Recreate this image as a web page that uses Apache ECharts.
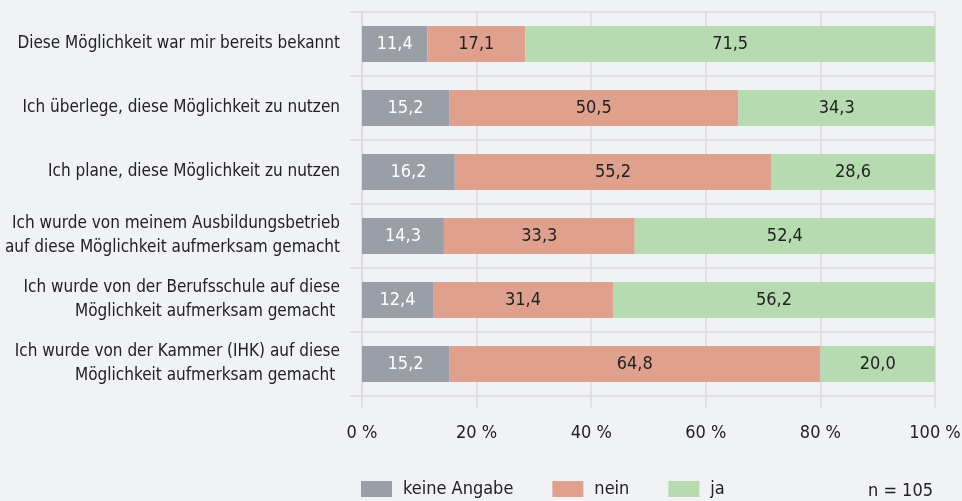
<!DOCTYPE html>
<html>
<head>
<meta charset="utf-8">
<title>Möglichkeit</title>
<script src="https://cdn.jsdelivr.net/npm/echarts@6/dist/echarts.min.js"></script>
<style>
    html, body { margin: 0; padding: 0; background: #f1f2f6; }
    #chart { width: 962px; height: 501px; }
</style>
</head>
<body>
<div id="chart"></div>
<script>
var categories = [
    'Diese Möglichkeit war mir bereits bekannt',
    'Ich überlege, diese Möglichkeit zu nutzen',
    'Ich plane, diese Möglichkeit zu nutzen',
    'Ich wurde von meinem Ausbildungsbetrieb\nauf diese Möglichkeit aufmerksam gemacht',
    'Ich wurde von der Berufsschule auf diese\nMöglichkeit aufmerksam gemacht ',
    'Ich wurde von der Kammer (IHK) auf diese\nMöglichkeit aufmerksam gemacht '
];
var keineAngabe = [11.4, 15.2, 16.2, 14.3, 12.4, 15.2];
var nein = [17.1, 50.5, 55.2, 33.3, 31.4, 64.8];
var ja = [71.5, 34.3, 28.6, 52.4, 56.2, 20.0];
var seriesNames = ['keine Angabe', 'nein', 'ja'];
var colors = ['#9a9ea7', '#e0a08e', '#b6dbb0'];
var textColors = ['#ffffff', '#222222', '#222222'];

var font = '"Liberation Sans Narrow", "DejaVu Sans Condensed", "Roboto", sans-serif';
var lineColor = '#d8d9de';

var chart = echarts.init(document.getElementById('chart'));

function makeSeries(i, data) {
    return {
        name: seriesNames[i],
        type: 'bar',
        stack: 'total',
        barWidth: 36,
        data: data,
        itemStyle: { color: colors[i] },
        label: {
            show: true,
            position: 'inside',
            color: textColors[i],
            fontFamily: font,
            fontSize: 18,
            formatter: function (p) {
                return p.value.toFixed(1).replace('.', ',');
            }
        }
    };
}

var option = {
    backgroundColor: '#f1f2f6',
    animation: false,
    textStyle: { fontFamily: font },
    grid: { left: 362, right: 27, top: 12, bottom: 105, outerBoundsMode: 'none' },
    legend: {
        bottom: 3,
        left: 361,
        padding: 0,
        itemWidth: 31,
        itemHeight: 16,
        itemGap: 39,
        icon: 'rect',
        data: seriesNames,
        textStyle: { fontFamily: font, fontSize: 18, color: '#222', padding: [0, 0, 0, 6] }
    },
    graphic: [{
        type: 'text',
        right: 29,
        bottom: 1,
        style: { text: 'n = 105', fontFamily: font, fontSize: 18, fill: '#222' }
    }],
    xAxis: {
        type: 'value',
        min: 0,
        max: 100,
        interval: 20,
        axisLine: { show: false },
        axisTick: { show: true, length: 12, lineStyle: { color: lineColor, width: 1.5 } },
        splitLine: { show: true, lineStyle: { color: lineColor, width: 1.5 } },
        axisLabel: {
            margin: 28,
            fontSize: 18,
            color: '#222',
            fontFamily: font,
            formatter: '{value} %'
        }
    },
    yAxis: {
        type: 'category',
        inverse: true,
        data: categories,
        axisLine: { show: true, lineStyle: { color: lineColor, width: 1.5 } },
        axisTick: { show: true, length: 12, lineStyle: { color: lineColor, width: 1.5 } },
        splitLine: { show: true, lineStyle: { color: lineColor, width: 1.5 } },
        axisLabel: {
            margin: 22,
            fontSize: 17,
            lineHeight: 24,
            color: '#222',
            fontFamily: font,
            align: 'right'
        }
    },
    series: [
        makeSeries(0, keineAngabe),
        makeSeries(1, nein),
        makeSeries(2, ja)
    ]
};

chart.setOption(option);
</script>
</body>
</html>
